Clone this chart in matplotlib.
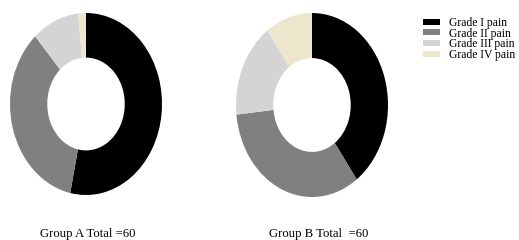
import matplotlib
matplotlib.use("Agg")
import matplotlib.pyplot as plt
from matplotlib.patches import Patch

plt.rcParams['font.family'] = ['Liberation Serif', 'DejaVu Serif']

grades = ['Grade I pain', 'Grade II pain', 'Grade III pain', 'Grade IV pain']
group_a = [32, 21, 6, 1]
group_b = [24, 20, 10, 6]
colors = ['#000000', '#808080', '#d4d4d4', '#ede6cd']
titles = ['Group A Total =60', 'Group B Total  =60']

fig = plt.figure(figsize=(5.19, 2.4), dpi=100)

# two donuts, stretched vertically like the original
ax_a = fig.add_axes([10 / 519, 45 / 240, 152 / 519, 182 / 240])
ax_b = fig.add_axes([236 / 519, 43 / 240, 152 / 519, 184 / 240])

for ax, vals, title, cx in [(ax_a, group_a, titles[0], 88), (ax_b, group_b, titles[1], 319)]:
    ax.pie(vals, colors=colors, startangle=90, counterclock=False,
           wedgeprops=dict(width=0.49, linewidth=0))
    ax.set_aspect('auto')
    ax.set_xlim(-1, 1)
    ax.set_ylim(-1, 1)
    ax.axis('off')
    fig.text(cx / 519, 1 - 234 / 240, title, ha='center', va='center', fontsize=9.2)

handles = [Patch(facecolor=c, edgecolor='none') for c in colors]
fig.legend(handles, grades, loc='upper left', bbox_to_anchor=(423 / 519, 1 - 17 / 240),
           frameon=False, fontsize=8.4, handlelength=1.45, handleheight=0.4,
           handletextpad=0.75, labelspacing=-0.12, borderpad=0, borderaxespad=0)

fig.savefig('out.png', dpi=100)
